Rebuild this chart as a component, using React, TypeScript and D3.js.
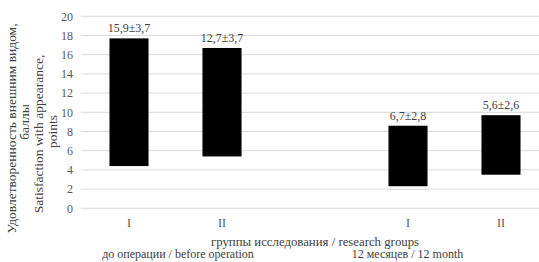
import React from "react";
import * as d3 from "d3";

const categories = ["I", "II", "", "I2", "II2"];
const tickLabels = ["I", "II", "", "I", "II"];
const lowValues = [4.4, 5.4, NaN, 2.3, 3.5];
const highValues = [17.7, 16.7, NaN, 8.6, 9.7];
const barLabels = ["15,9±3,7", "12,7±3,7", "", "6,7±2,8", "5,6±2,6"];
const yTicks = [0, 2, 4, 6, 8, 10, 12, 14, 16, 18, 20];

const W = 539;
const H = 262;
const FONT = '"Liberation Serif", "Times New Roman", "DejaVu Serif", serif';

export default function App() {
  const x = d3.scaleBand<string>().domain(categories).range([82.5, 547.5]).paddingInner(0).paddingOuter(0);
  const y = d3.scaleLinear().domain([0, 20]).range([208.3, 16.3]);
  const bw = x.bandwidth() * 0.42;

  return (
    <svg width={W} height={H} style={{ position: "absolute", left: 0, top: 0, background: "#fff", fontFamily: FONT }}>
      {yTicks.map((t) => (
        <g key={t}>
          <line x1={81} x2={W} y1={y(t)} y2={y(t)} stroke="#d9d9d9" strokeWidth={1} />
          <text x={73} y={y(t)} dy="0.35em" textAnchor="end" fontSize={12} fill="#595959" style={{ fontFamily: FONT }}>{t}</text>
        </g>
      ))}
      {categories.map((c, i) => {
        if (isNaN(lowValues[i])) return null;
        const cx = (x(c) as number) + x.bandwidth() / 2;
        return (
          <g key={c}>
            <rect x={cx - bw / 2} y={y(highValues[i])} width={bw} height={y(lowValues[i]) - y(highValues[i])} fill="#000" />
            <text x={cx} y={y(highValues[i]) - 6} textAnchor="middle" fontSize={12} fill="#404040" style={{ fontFamily: FONT }}>{barLabels[i]}</text>
          </g>
        );
      })}
      {categories.map((c, i) => (
        <text key={"t" + c} x={(x(c) as number) + x.bandwidth() / 2} y={227} textAnchor="middle" fontSize={12} fill="#595959" style={{ fontFamily: FONT }}>{tickLabels[i]}</text>
      ))}
      <g fill="#404040" style={{ fontFamily: FONT }}>
        <text x={315} y={245.5} textAnchor="middle" fontSize={12.8}>группы исследования / research groups</text>
        <text x={178} y={257.5} textAnchor="middle" fontSize={12}>до операции / before operation</text>
        <text x={407.5} y={257.5} textAnchor="middle" fontSize={12}>12 месяцев / 12 month</text>
      </g>
      <g fontSize={13.5} fill="#404040" style={{ fontFamily: FONT }}>
        <text transform="translate(16,128.5) rotate(-90)" textAnchor="middle">Удовлетворенность внешним видом,</text>
        <text transform="translate(29,122) rotate(-90)" textAnchor="middle">баллы</text>
        <text transform="translate(43,134) rotate(-90)" textAnchor="middle">Satisfaction with appearance,</text>
        <text transform="translate(57,131.5) rotate(-90)" textAnchor="middle">points</text>
      </g>
    </svg>
  );
}
